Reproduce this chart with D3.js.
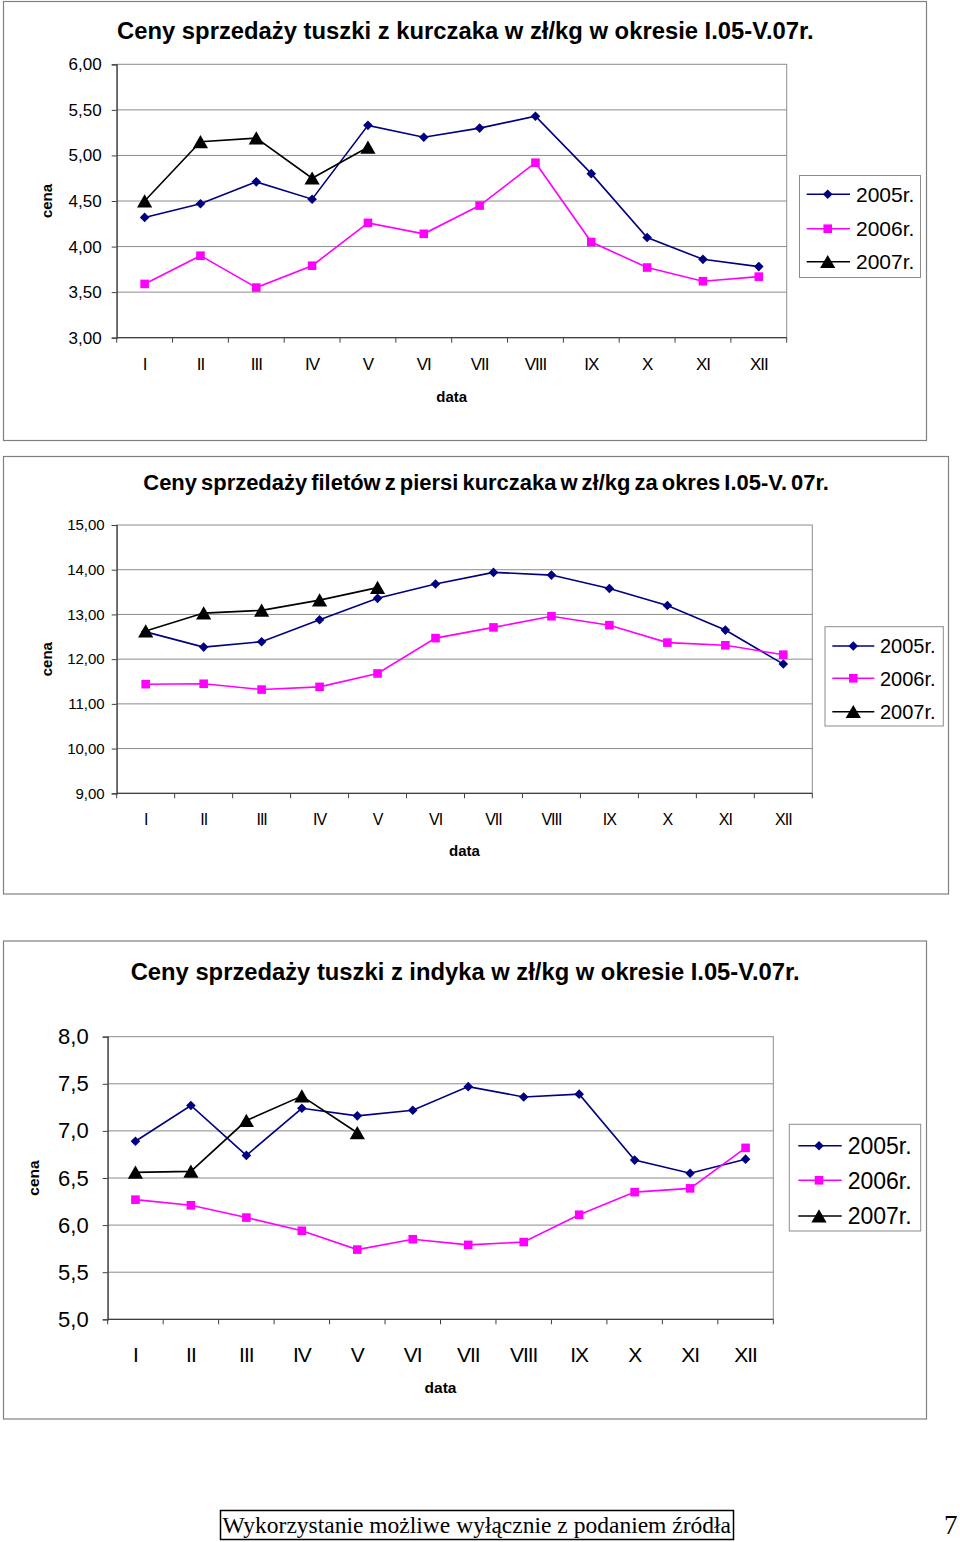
<!DOCTYPE html>
<html><head><meta charset="utf-8">
<script src="https://cdn.jsdelivr.net/npm/d3@7"></script>
<style>body{margin:0;background:#fff}svg{display:block}</style>
</head><body>
<svg id="c" width="960" height="1542"></svg>
<script>
// ---------- DATA ----------
const months = ["I","II","III","IV","V","VI","VII","VIII","IX","X","XI","XII"];
const seriesNames = ["2005r.","2006r.","2007r."];

const kurczakTitle = "Ceny sprzedaży tuszki z kurczaka w zł/kg w okresie I.05-V.07r.";
const kurczak2005 = [4.32,4.47,4.71,4.52,5.33,5.20,5.30,5.43,4.80,4.10,3.86,3.78];
const kurczak2006 = [3.59,3.90,3.55,3.79,4.26,4.14,4.45,4.92,4.05,3.77,3.62,3.67];
const kurczak2007 = [4.50,5.15,5.19,4.75,5.09];
const kurczakTicks = [3.0,3.5,4.0,4.5,5.0,5.5,6.0];
const kurczakTickLabels = ["3,00","3,50","4,00","4,50","5,00","5,50","6,00"];

const filetTitle = "Ceny sprzedaży filetów z piersi kurczaka w zł/kg za okres I.05-V. 07r.";
const filet2005 = [12.61,12.27,12.39,12.88,13.36,13.68,13.94,13.88,13.58,13.20,12.65,11.89];
const filet2006 = [11.44,11.45,11.32,11.38,11.68,12.47,12.71,12.96,12.76,12.37,12.31,12.10];
const filet2007 = [12.63,13.03,13.09,13.32,13.60];
const filetTicks = [9,10,11,12,13,14,15];
const filetTickLabels = ["9,00","10,00","11,00","12,00","13,00","14,00","15,00"];

const indykTitle = "Ceny sprzedaży tuszki z indyka w zł/kg w okresie I.05-V.07r.";
const indyk2005 = [6.89,7.27,6.74,7.24,7.16,7.22,7.47,7.36,7.39,6.69,6.55,6.70];
const indyk2006 = [6.27,6.21,6.08,5.94,5.74,5.85,5.79,5.82,6.11,6.35,6.39,6.82];
const indyk2007 = [6.56,6.57,7.11,7.37,6.98];
const indykTicks = [5.0,5.5,6.0,6.5,7.0,7.5,8.0];
const indykTickLabels = ["5,0","5,5","6,0","6,5","7,0","7,5","8,0"];

const yAxisTitle = "cena";
const xAxisTitle = "data";
const footerText = "Wykorzystanie możliwe wyłącznie z podaniem źródła";
const pageNumber = "7";

// ---------- DRAWING ----------
const svg = d3.select("#c");
svg.append("rect").attr("width",960).attr("height",1542).attr("fill","#fff");
const SANS = "Arial, 'Liberation Sans', Helvetica, sans-serif";
const colors = ["#000080","#FF00FF","#000000"];
const markerPaths = [
  "M0,-4.8L4.8,0L0,4.8L-4.8,0Z",
  "M-4.3,-4.3H4.3V4.3H-4.3Z",
  "M0,-6.8L7.6,6.4L-7.6,6.4Z"
];

function fitText(sel, target) {
  const w = sel.node().getComputedTextLength();
  const fs = parseFloat(sel.attr("font-size"));
  sel.attr("font-size", fs * target / w);
}

function drawChart(c) {
  const g = svg.append("g");
  g.append("rect").attr("x",c.box[0]).attr("y",c.box[1]).attr("width",c.box[2]).attr("height",c.box[3])
    .attr("fill","#fff").attr("stroke","#808080").attr("stroke-width",1.2);

  const x = d3.scaleBand().domain(months).range([c.plot.left, c.plot.right]).padding(0);
  const y = d3.scaleLinear().domain([c.ticks[0], c.ticks[c.ticks.length-1]]).range([c.plot.bottom, c.plot.top]);

  // plot area border
  g.append("rect").attr("x",c.plot.left).attr("y",c.plot.top)
    .attr("width",c.plot.right-c.plot.left).attr("height",c.plot.bottom-c.plot.top)
    .attr("fill","none").attr("stroke","#8c8c8c").attr("stroke-width",1);

  // gridlines
  g.selectAll(".grid").data(c.ticks.slice(1,-1)).join("line")
    .attr("x1",c.plot.left).attr("x2",c.plot.right)
    .attr("y1",d=>y(d)).attr("y2",d=>y(d))
    .attr("stroke","#8c8c8c").attr("stroke-width",1);

  // y axis
  const yAxis = d3.axisLeft(y).tickValues(c.ticks).tickSize(5).tickPadding(c.yPad)
    .tickFormat((d,i)=>c.tickLabels[i]);
  const ya = g.append("g").attr("transform",`translate(${c.plot.left},0)`).call(yAxis);
  ya.select(".domain").attr("stroke","#404040").attr("stroke-width",1.2);
  ya.selectAll(".tick line").attr("stroke","#404040");
  ya.selectAll("text").attr("font-family",SANS).attr("font-size",c.yFs).attr("fill","#000");

  // x axis: ticks at category boundaries
  const xa = g.append("g").attr("transform",`translate(0,${c.plot.bottom})`);
  xa.append("line").attr("x1",c.plot.left).attr("x2",c.plot.right).attr("stroke","#404040").attr("stroke-width",1.2);
  const bounds = months.map(m=>x(m)).concat([c.plot.right]);
  xa.selectAll(".bt").data(bounds).join("line")
    .attr("x1",d=>d).attr("x2",d=>d).attr("y1",0).attr("y2",5).attr("stroke","#404040");
  xa.selectAll(".xl").data(months).join("text")
    .attr("x",d=>x(d)+x.bandwidth()/2).attr("y",c.xLabelY - c.plot.bottom)
    .attr("text-anchor","middle").attr("font-family",SANS).attr("font-size",c.xFs)
    .attr("letter-spacing",c.xLs).text(d=>d);

  // axis titles
  g.append("text").attr("x",(c.plot.left+c.plot.right)/2).attr("y",c.dataY)
    .attr("text-anchor","middle").attr("font-family",SANS).attr("font-weight","bold")
    .attr("font-size",c.axFs).text(xAxisTitle);
  g.append("text").attr("transform",`translate(${c.cenaX},${(c.plot.top+c.plot.bottom)/2}) rotate(-90)`)
    .attr("text-anchor","middle").attr("font-family",SANS).attr("font-weight","bold")
    .attr("font-size",c.axFs).text(yAxisTitle);

  // title
  const t = g.append("text").attr("x",c.title.x).attr("y",c.title.y)
    .attr("font-family",SANS).attr("font-weight","bold").attr("font-size",20)
    .attr("word-spacing",c.title.ws||0).text(c.title.text);
  fitText(t, c.title.w);

  // series
  const line = d3.line().x((d,i)=>x(months[i])+x.bandwidth()/2).y(d=>y(d));
  c.series.forEach((s,k)=>{
    g.append("path").attr("d",line(s)).attr("fill","none").attr("stroke",colors[k]).attr("stroke-width",1.6);
  });
  c.series.forEach((s,k)=>{
    g.selectAll(null).data(s).join("path")
      .attr("transform",(d,i)=>`translate(${x(months[i])+x.bandwidth()/2},${y(d)})`)
      .attr("d",markerPaths[k]).attr("fill",colors[k]);
  });

  // legend
  const L = c.legend;
  g.append("rect").attr("x",L.box[0]).attr("y",L.box[1]).attr("width",L.box[2]).attr("height",L.box[3])
    .attr("fill","#fff").attr("stroke","#8c8c8c").attr("stroke-width",1);
  seriesNames.forEach((n,k)=>{
    const ry = L.rows[k];
    g.append("line").attr("x1",L.x1).attr("x2",L.x2).attr("y1",ry).attr("y2",ry)
      .attr("stroke",colors[k]).attr("stroke-width",1.6);
    g.append("path").attr("transform",`translate(${L.mx},${ry})`).attr("d",markerPaths[k]).attr("fill",colors[k]);
    g.append("text").attr("x",L.tx).attr("y",ry+L.fs*0.36).attr("font-family",SANS)
      .attr("font-size",L.fs).text(n);
  });
}

drawChart({
  box:[3.5,1.5,923,439],
  plot:{left:116.7,top:64.3,right:786.7,bottom:337.7},
  ticks:kurczakTicks, tickLabels:kurczakTickLabels, yFs:17, yPad:10,
  xFs:17, xLs:-1, xLabelY:370, dataY:402, axFs:15, cenaX:52,
  title:{text:kurczakTitle,x:117,y:39,w:697},
  series:[kurczak2005,kurczak2006,kurczak2007],
  legend:{box:[799.5,175.5,121,102],rows:[194.3,228.7,261.7],x1:806.7,x2:850,mx:827.7,tx:856,fs:21}
});

drawChart({
  box:[3.5,456.5,945,437.5],
  plot:{left:116.7,top:525,right:812.3,bottom:793.3},
  ticks:filetTicks, tickLabels:filetTickLabels, yFs:15, yPad:7,
  xFs:16, xLs:-1, xLabelY:825, dataY:856, axFs:15, cenaX:52,
  title:{text:filetTitle,x:143.3,y:490,w:684,ws:-2},
  series:[filet2005,filet2006,filet2007],
  legend:{box:[825,626.7,118.3,99.3],rows:[646,678.3,711.7],x1:832.3,x2:874.3,mx:853.3,tx:880,fs:20}
});

drawChart({
  box:[3.5,941,923,478],
  plot:{left:107.7,top:1036.7,right:773.3,bottom:1319.3},
  ticks:indykTicks, tickLabels:indykTickLabels, yFs:22, yPad:14,
  xFs:21, xLs:-1, xLabelY:1362.5, dataY:1393, axFs:15.5, cenaX:39,
  title:{text:indykTitle,x:130.7,y:980,w:669},
  series:[indyk2005,indyk2006,indyk2007],
  legend:{box:[789.3,1124.3,131.4,106.7],rows:[1145.7,1180.3,1216],x1:798.3,x2:841.7,mx:819,tx:847.7,fs:23}
});

// footer
svg.append("rect").attr("x",220.5).attr("y",1510.5).attr("width",513).attr("height",29)
  .attr("fill","none").attr("stroke","#000").attr("stroke-width",1.5);
const ft = svg.append("text").attr("x",222.5).attr("y",1533).attr("font-family","'Times New Roman','Liberation Serif',serif")
  .attr("font-size",24).text(footerText);
fitText(ft, 509);
svg.append("text").attr("x",944).attr("y",1534).attr("font-family","'Times New Roman','Liberation Serif',serif")
  .attr("font-size",27).text(pageNumber);
</script>
</body></html>
